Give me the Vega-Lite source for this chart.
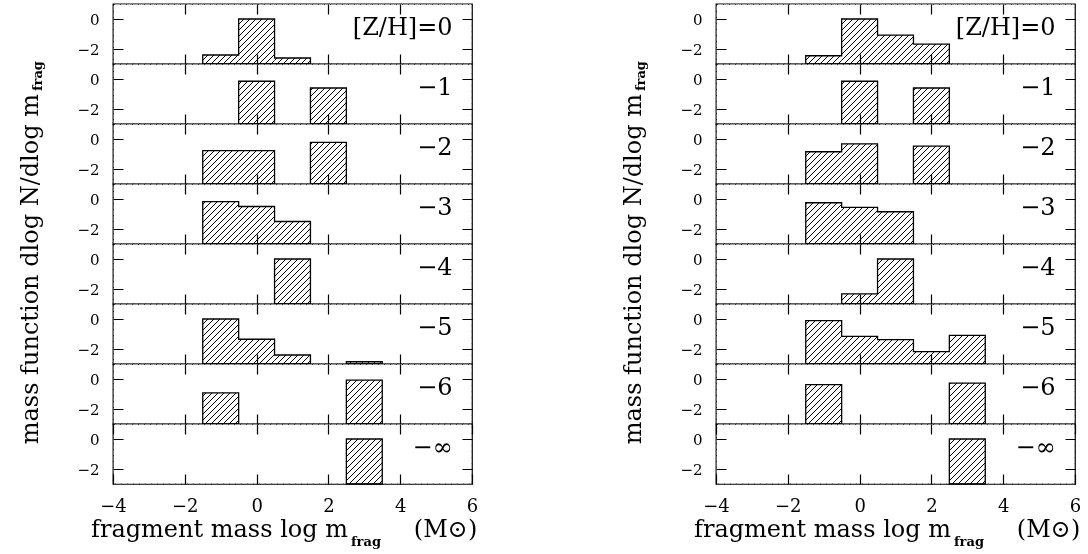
{
"$schema":"https://vega.github.io/schema/vega-lite/v6.json",
"background":"white",
"padding":{"left":18,"top":3,"right":5,"bottom":5},
"params":[{"name":"hatch","value":{"gradient":"linear","x1":0,"y1":0,"x2":1.21027,"y2":0.19903,"stops":[
{"offset":0,"color":"#000"},{"offset":0.003,"color":"#000"},{"offset":0.003,"color":"#fff"},
{"offset":0.0135,"color":"#fff"},{"offset":0.0135,"color":"#000"},{"offset":0.0165,"color":"#000"},{"offset":0.0165,"color":"#fff"},
{"offset":0.027,"color":"#fff"},{"offset":0.027,"color":"#000"},{"offset":0.03,"color":"#000"},{"offset":0.03,"color":"#fff"},
{"offset":0.0405,"color":"#fff"},{"offset":0.0405,"color":"#000"},{"offset":0.0435,"color":"#000"},{"offset":0.0435,"color":"#fff"},
{"offset":0.054,"color":"#fff"},{"offset":0.054,"color":"#000"},{"offset":0.057,"color":"#000"},{"offset":0.057,"color":"#fff"},
{"offset":0.0675,"color":"#fff"},{"offset":0.0675,"color":"#000"},{"offset":0.0705,"color":"#000"},{"offset":0.0705,"color":"#fff"},
{"offset":0.081,"color":"#fff"},{"offset":0.081,"color":"#000"},{"offset":0.084,"color":"#000"},{"offset":0.084,"color":"#fff"},
{"offset":0.0945,"color":"#fff"},{"offset":0.0945,"color":"#000"},{"offset":0.0975,"color":"#000"},{"offset":0.0975,"color":"#fff"},
{"offset":0.108,"color":"#fff"},{"offset":0.108,"color":"#000"},{"offset":0.111,"color":"#000"},{"offset":0.111,"color":"#fff"},
{"offset":0.1215,"color":"#fff"},{"offset":0.1215,"color":"#000"},{"offset":0.1245,"color":"#000"},{"offset":0.1245,"color":"#fff"},
{"offset":0.135,"color":"#fff"},{"offset":0.135,"color":"#000"},{"offset":0.138,"color":"#000"},{"offset":0.138,"color":"#fff"},
{"offset":0.1485,"color":"#fff"},{"offset":0.1485,"color":"#000"},{"offset":0.1515,"color":"#000"},{"offset":0.1515,"color":"#fff"},
{"offset":0.162,"color":"#fff"},{"offset":0.162,"color":"#000"},{"offset":0.165,"color":"#000"},{"offset":0.165,"color":"#fff"},
{"offset":0.1755,"color":"#fff"},{"offset":0.1755,"color":"#000"},{"offset":0.1785,"color":"#000"},{"offset":0.1785,"color":"#fff"},
{"offset":0.189,"color":"#fff"},{"offset":0.189,"color":"#000"},{"offset":0.192,"color":"#000"},{"offset":0.192,"color":"#fff"},
{"offset":0.2025,"color":"#fff"},{"offset":0.2025,"color":"#000"},{"offset":0.2055,"color":"#000"},{"offset":0.2055,"color":"#fff"},
{"offset":0.216,"color":"#fff"},{"offset":0.216,"color":"#000"},{"offset":0.219,"color":"#000"},{"offset":0.219,"color":"#fff"},
{"offset":0.2295,"color":"#fff"},{"offset":0.2295,"color":"#000"},{"offset":0.2325,"color":"#000"},{"offset":0.2325,"color":"#fff"},
{"offset":0.243,"color":"#fff"},{"offset":0.243,"color":"#000"},{"offset":0.246,"color":"#000"},{"offset":0.246,"color":"#fff"},
{"offset":0.2565,"color":"#fff"},{"offset":0.2565,"color":"#000"},{"offset":0.2595,"color":"#000"},{"offset":0.2595,"color":"#fff"},
{"offset":0.27,"color":"#fff"},{"offset":0.27,"color":"#000"},{"offset":0.273,"color":"#000"},{"offset":0.273,"color":"#fff"},
{"offset":0.2835,"color":"#fff"},{"offset":0.2835,"color":"#000"},{"offset":0.2865,"color":"#000"},{"offset":0.2865,"color":"#fff"},
{"offset":0.297,"color":"#fff"},{"offset":0.297,"color":"#000"},{"offset":0.3,"color":"#000"},{"offset":0.3,"color":"#fff"},
{"offset":0.3105,"color":"#fff"},{"offset":0.3105,"color":"#000"},{"offset":0.3135,"color":"#000"},{"offset":0.3135,"color":"#fff"},
{"offset":0.324,"color":"#fff"},{"offset":0.324,"color":"#000"},{"offset":0.327,"color":"#000"},{"offset":0.327,"color":"#fff"},
{"offset":0.3375,"color":"#fff"},{"offset":0.3375,"color":"#000"},{"offset":0.3405,"color":"#000"},{"offset":0.3405,"color":"#fff"},
{"offset":0.351,"color":"#fff"},{"offset":0.351,"color":"#000"},{"offset":0.354,"color":"#000"},{"offset":0.354,"color":"#fff"},
{"offset":0.3645,"color":"#fff"},{"offset":0.3645,"color":"#000"},{"offset":0.3675,"color":"#000"},{"offset":0.3675,"color":"#fff"},
{"offset":0.378,"color":"#fff"},{"offset":0.378,"color":"#000"},{"offset":0.381,"color":"#000"},{"offset":0.381,"color":"#fff"},
{"offset":0.3915,"color":"#fff"},{"offset":0.3915,"color":"#000"},{"offset":0.3945,"color":"#000"},{"offset":0.3945,"color":"#fff"},
{"offset":0.405,"color":"#fff"},{"offset":0.405,"color":"#000"},{"offset":0.408,"color":"#000"},{"offset":0.408,"color":"#fff"},
{"offset":0.4185,"color":"#fff"},{"offset":0.4185,"color":"#000"},{"offset":0.4215,"color":"#000"},{"offset":0.4215,"color":"#fff"},
{"offset":0.432,"color":"#fff"},{"offset":0.432,"color":"#000"},{"offset":0.435,"color":"#000"},{"offset":0.435,"color":"#fff"},
{"offset":0.4455,"color":"#fff"},{"offset":0.4455,"color":"#000"},{"offset":0.4485,"color":"#000"},{"offset":0.4485,"color":"#fff"},
{"offset":0.459,"color":"#fff"},{"offset":0.459,"color":"#000"},{"offset":0.462,"color":"#000"},{"offset":0.462,"color":"#fff"},
{"offset":0.4725,"color":"#fff"},{"offset":0.4725,"color":"#000"},{"offset":0.4755,"color":"#000"},{"offset":0.4755,"color":"#fff"},
{"offset":0.486,"color":"#fff"},{"offset":0.486,"color":"#000"},{"offset":0.489,"color":"#000"},{"offset":0.489,"color":"#fff"},
{"offset":0.4995,"color":"#fff"},{"offset":0.4995,"color":"#000"},{"offset":0.5025,"color":"#000"},{"offset":0.5025,"color":"#fff"},
{"offset":0.513,"color":"#fff"},{"offset":0.513,"color":"#000"},{"offset":0.516,"color":"#000"},{"offset":0.516,"color":"#fff"},
{"offset":0.5265,"color":"#fff"},{"offset":0.5265,"color":"#000"},{"offset":0.5295,"color":"#000"},{"offset":0.5295,"color":"#fff"},
{"offset":0.54,"color":"#fff"},{"offset":0.54,"color":"#000"},{"offset":0.543,"color":"#000"},{"offset":0.543,"color":"#fff"},
{"offset":0.5535,"color":"#fff"},{"offset":0.5535,"color":"#000"},{"offset":0.5565,"color":"#000"},{"offset":0.5565,"color":"#fff"},
{"offset":0.567,"color":"#fff"},{"offset":0.567,"color":"#000"},{"offset":0.57,"color":"#000"},{"offset":0.57,"color":"#fff"},
{"offset":0.5805,"color":"#fff"},{"offset":0.5805,"color":"#000"},{"offset":0.5835,"color":"#000"},{"offset":0.5835,"color":"#fff"},
{"offset":0.594,"color":"#fff"},{"offset":0.594,"color":"#000"},{"offset":0.597,"color":"#000"},{"offset":0.597,"color":"#fff"},
{"offset":0.6075,"color":"#fff"},{"offset":0.6075,"color":"#000"},{"offset":0.6105,"color":"#000"},{"offset":0.6105,"color":"#fff"},
{"offset":0.621,"color":"#fff"},{"offset":0.621,"color":"#000"},{"offset":0.624,"color":"#000"},{"offset":0.624,"color":"#fff"},
{"offset":0.6345,"color":"#fff"},{"offset":0.6345,"color":"#000"},{"offset":0.6375,"color":"#000"},{"offset":0.6375,"color":"#fff"},
{"offset":0.648,"color":"#fff"},{"offset":0.648,"color":"#000"},{"offset":0.651,"color":"#000"},{"offset":0.651,"color":"#fff"},
{"offset":0.6615,"color":"#fff"},{"offset":0.6615,"color":"#000"},{"offset":0.6645,"color":"#000"},{"offset":0.6645,"color":"#fff"},
{"offset":0.675,"color":"#fff"},{"offset":0.675,"color":"#000"},{"offset":0.678,"color":"#000"},{"offset":0.678,"color":"#fff"},
{"offset":0.6885,"color":"#fff"},{"offset":0.6885,"color":"#000"},{"offset":0.6915,"color":"#000"},{"offset":0.6915,"color":"#fff"},
{"offset":0.702,"color":"#fff"},{"offset":0.702,"color":"#000"},{"offset":0.705,"color":"#000"},{"offset":0.705,"color":"#fff"},
{"offset":0.7155,"color":"#fff"},{"offset":0.7155,"color":"#000"},{"offset":0.7185,"color":"#000"},{"offset":0.7185,"color":"#fff"},
{"offset":0.729,"color":"#fff"},{"offset":0.729,"color":"#000"},{"offset":0.732,"color":"#000"},{"offset":0.732,"color":"#fff"},
{"offset":0.7425,"color":"#fff"},{"offset":0.7425,"color":"#000"},{"offset":0.7455,"color":"#000"},{"offset":0.7455,"color":"#fff"},
{"offset":0.756,"color":"#fff"},{"offset":0.756,"color":"#000"},{"offset":0.759,"color":"#000"},{"offset":0.759,"color":"#fff"},
{"offset":0.7695,"color":"#fff"},{"offset":0.7695,"color":"#000"},{"offset":0.7725,"color":"#000"},{"offset":0.7725,"color":"#fff"},
{"offset":0.783,"color":"#fff"},{"offset":0.783,"color":"#000"},{"offset":0.786,"color":"#000"},{"offset":0.786,"color":"#fff"},
{"offset":0.7965,"color":"#fff"},{"offset":0.7965,"color":"#000"},{"offset":0.7995,"color":"#000"},{"offset":0.7995,"color":"#fff"},
{"offset":0.81,"color":"#fff"},{"offset":0.81,"color":"#000"},{"offset":0.813,"color":"#000"},{"offset":0.813,"color":"#fff"},
{"offset":0.8235,"color":"#fff"},{"offset":0.8235,"color":"#000"},{"offset":0.8265,"color":"#000"},{"offset":0.8265,"color":"#fff"},
{"offset":0.837,"color":"#fff"},{"offset":0.837,"color":"#000"},{"offset":0.84,"color":"#000"},{"offset":0.84,"color":"#fff"},
{"offset":0.8505,"color":"#fff"},{"offset":0.8505,"color":"#000"},{"offset":0.8535,"color":"#000"},{"offset":0.8535,"color":"#fff"},
{"offset":0.864,"color":"#fff"},{"offset":0.864,"color":"#000"},{"offset":0.867,"color":"#000"},{"offset":0.867,"color":"#fff"},
{"offset":0.8775,"color":"#fff"},{"offset":0.8775,"color":"#000"},{"offset":0.8805,"color":"#000"},{"offset":0.8805,"color":"#fff"},
{"offset":0.891,"color":"#fff"},{"offset":0.891,"color":"#000"},{"offset":0.894,"color":"#000"},{"offset":0.894,"color":"#fff"},
{"offset":0.9045,"color":"#fff"},{"offset":0.9045,"color":"#000"},{"offset":0.9075,"color":"#000"},{"offset":0.9075,"color":"#fff"},
{"offset":0.918,"color":"#fff"},{"offset":0.918,"color":"#000"},{"offset":0.921,"color":"#000"},{"offset":0.921,"color":"#fff"},
{"offset":0.9315,"color":"#fff"},{"offset":0.9315,"color":"#000"},{"offset":0.9345,"color":"#000"},{"offset":0.9345,"color":"#fff"},
{"offset":0.945,"color":"#fff"},{"offset":0.945,"color":"#000"},{"offset":0.948,"color":"#000"},{"offset":0.948,"color":"#fff"}
]}}],
"datasets":{"h":[
{"s":"L","z":"0","lo":-1.5,"hi":-0.5,"v":-2.4,"grp":"L0a"},
{"s":"L","z":"0","lo":-0.5,"hi":0.5,"v":0,"grp":"L0a"},
{"s":"L","z":"0","lo":0.5,"hi":1.5,"v":-2.6,"grp":"L0a"},
{"s":"L","z":"1","lo":-0.5,"hi":0.5,"v":-0.15,"grp":"L1a"},
{"s":"L","z":"1","lo":1.5,"hi":2.5,"v":-0.6,"grp":"L1b"},
{"s":"L","z":"2","lo":-1.5,"hi":-0.5,"v":-0.78,"grp":"L2a"},
{"s":"L","z":"2","lo":-0.5,"hi":0.5,"v":-0.78,"grp":"L2a"},
{"s":"L","z":"2","lo":1.5,"hi":2.5,"v":-0.22,"grp":"L2b"},
{"s":"L","z":"3","lo":-1.5,"hi":-0.5,"v":-0.18,"grp":"L3a"},
{"s":"L","z":"3","lo":-0.5,"hi":0.5,"v":-0.5,"grp":"L3a"},
{"s":"L","z":"3","lo":0.5,"hi":1.5,"v":-1.5,"grp":"L3a"},
{"s":"L","z":"4","lo":0.5,"hi":1.5,"v":0,"grp":"L4a"},
{"s":"L","z":"5","lo":-1.5,"hi":-0.5,"v":0,"grp":"L5a"},
{"s":"L","z":"5","lo":-0.5,"hi":0.5,"v":-1.35,"grp":"L5a"},
{"s":"L","z":"5","lo":0.5,"hi":1.5,"v":-2.4,"grp":"L5a"},
{"s":"L","z":"5","lo":2.5,"hi":3.5,"v":-2.85,"grp":"L5b"},
{"s":"L","z":"6","lo":-1.5,"hi":-0.5,"v":-0.93,"grp":"L6a"},
{"s":"L","z":"6","lo":2.5,"hi":3.5,"v":-0.07,"grp":"L6b"},
{"s":"L","z":"inf","lo":2.5,"hi":3.5,"v":0,"grp":"L7a"},
{"s":"R","z":"0","lo":-1.5,"hi":-0.5,"v":-2.45,"grp":"R0a"},
{"s":"R","z":"0","lo":-0.5,"hi":0.5,"v":0,"grp":"R0a"},
{"s":"R","z":"0","lo":0.5,"hi":1.5,"v":-1.07,"grp":"R0a"},
{"s":"R","z":"0","lo":1.5,"hi":2.5,"v":-1.67,"grp":"R0a"},
{"s":"R","z":"1","lo":-0.5,"hi":0.5,"v":-0.15,"grp":"R1a"},
{"s":"R","z":"1","lo":1.5,"hi":2.5,"v":-0.6,"grp":"R1b"},
{"s":"R","z":"2","lo":-1.5,"hi":-0.5,"v":-0.85,"grp":"R2a"},
{"s":"R","z":"2","lo":-0.5,"hi":0.5,"v":-0.33,"grp":"R2a"},
{"s":"R","z":"2","lo":1.5,"hi":2.5,"v":-0.47,"grp":"R2b"},
{"s":"R","z":"3","lo":-1.5,"hi":-0.5,"v":-0.25,"grp":"R3a"},
{"s":"R","z":"3","lo":-0.5,"hi":0.5,"v":-0.56,"grp":"R3a"},
{"s":"R","z":"3","lo":0.5,"hi":1.5,"v":-0.85,"grp":"R3a"},
{"s":"R","z":"4","lo":-0.5,"hi":0.5,"v":-2.33,"grp":"R4a"},
{"s":"R","z":"4","lo":0.5,"hi":1.5,"v":0,"grp":"R4a"},
{"s":"R","z":"5","lo":-1.5,"hi":-0.5,"v":-0.11,"grp":"R5a"},
{"s":"R","z":"5","lo":-0.5,"hi":0.5,"v":-1.16,"grp":"R5a"},
{"s":"R","z":"5","lo":0.5,"hi":1.5,"v":-1.38,"grp":"R5a"},
{"s":"R","z":"5","lo":1.5,"hi":2.5,"v":-2.18,"grp":"R5a"},
{"s":"R","z":"5","lo":2.5,"hi":3.5,"v":-1.09,"grp":"R5a"},
{"s":"R","z":"6","lo":-1.5,"hi":-0.5,"v":-0.38,"grp":"R6a"},
{"s":"R","z":"6","lo":2.5,"hi":3.5,"v":-0.27,"grp":"R6b"},
{"s":"R","z":"inf","lo":2.5,"hi":3.5,"v":0,"grp":"R7a"}
]},
"data":{"name":"h"},
"config":{
"view":{"stroke":"black","strokeWidth":1.3,"fill":"white"},
"axis":{"domain":false,"ticks":false,"grid":true,"gridColor":"black","gridOpacity":1,"gridWidth":1.2,"zindex":2,"labelColor":"black","labelFont":"DejaVu Serif","labelFlush":false,"labelOverlap":false,"labelBound":false,"format":"d"},
"text":{"font":"DejaVu Serif","color":"black"}
},
"spacing":603,
"bounds":"flush",
"hconcat":[
{"spacing":0,"bounds":"flush","vconcat":[
{"width":359,"height":60,"transform":[{"filter":"datum.s=='L'&&datum.z=='0'"}],"resolve":{"axis":{"x":"independent","y":"independent"}},"layer":[
{"mark":{"type":"rect","fill":"black"},"encoding":{"x":{"field":"lo","type":"quantitative","scale":{"domain":[-4,6],"nice":false,"zero":false},"axis":{"orient":"bottom","zindex":2,"values":[-2,0,2,4],"gridDash":[10,40],"labels":false,"title":null}},"x2":{"field":"hi"},"y":{"field":"v","type":"quantitative","scale":{"domain":[-3,1],"nice":false,"zero":false},"axis":{"orient":"left","zindex":2,"values":[-2,0],"gridDash":[10,339],"labelFontSize":15,"labelPadding":14,"title":null}},"y2":{"datum":-3}}},
{"data":{"values":[{}]},"mark":{"type":"rect","fill":{"expr":"hatch"},"blend":"lighten"},"encoding":{"x":{"datum":-3.98,"type":"quantitative","axis":{"orient":"top","zindex":2,"values":[-3.5,-3,-2.5,-1.5,-1,-0.5,0.5,1,1.5,2.5,3,3.5,4.5,5,5.5],"gridDash":[5,50],"labels":false,"title":null}},"x2":{"datum":5.98},"y":{"datum":0.96,"type":"quantitative","axis":{"orient":"right","zindex":2,"values":[-2.5,-1.5,-1,-0.5,0.5],"gridDash":[5,349],"labels":false,"title":null}},"y2":{"datum":-2.96}}},
{"transform":[{"fold":["lo","hi"],"as":["k","xv"]},{"joinaggregate":[{"op":"max","field":"hi","as":"mh"}],"groupby":["grp"]},{"filter":"datum.k=='lo'||datum.hi==datum.mh"}],"mark":{"type":"area","interpolate":"step-after","fillOpacity":0,"stroke":"black","strokeWidth":1.3},"encoding":{"x":{"field":"xv","type":"quantitative","axis":null},"y":{"field":"v","type":"quantitative","axis":null,"stack":null},"y2":{"datum":-3},"detail":{"field":"grp"}}},
{"data":{"values":[{}]},"mark":{"type":"text","align":"right","baseline":"middle","fontSize":24},"encoding":{"x":{"datum":5.46,"type":"quantitative","axis":null},"y":{"datum":-0.6,"type":"quantitative","axis":null},"text":{"value":"[Z/H]=0"}}}
]},
{"width":359,"height":60,"transform":[{"filter":"datum.s=='L'&&datum.z=='1'"}],"resolve":{"axis":{"x":"independent","y":"independent"}},"layer":[
{"mark":{"type":"rect","fill":"black"},"encoding":{"x":{"field":"lo","type":"quantitative","scale":{"domain":[-4,6],"nice":false,"zero":false},"axis":{"orient":"bottom","zindex":2,"values":[-2,0,2,4],"gridDash":[10,40],"labels":false,"title":null}},"x2":{"field":"hi"},"y":{"field":"v","type":"quantitative","scale":{"domain":[-3,1],"nice":false,"zero":false},"axis":{"orient":"left","zindex":2,"values":[-2,0],"gridDash":[10,339],"labelFontSize":15,"labelPadding":14,"title":null}},"y2":{"datum":-3}}},
{"data":{"values":[{}]},"mark":{"type":"rect","fill":{"expr":"hatch"},"blend":"lighten"},"encoding":{"x":{"datum":-3.98,"type":"quantitative","axis":{"orient":"top","zindex":2,"values":[-3.5,-3,-2.5,-1.5,-1,-0.5,0.5,1,1.5,2.5,3,3.5,4.5,5,5.5],"gridDash":[5,50],"labels":false,"title":null}},"x2":{"datum":5.98},"y":{"datum":0.96,"type":"quantitative","axis":{"orient":"right","zindex":2,"values":[-2.5,-1.5,-1,-0.5,0.5],"gridDash":[5,349],"labels":false,"title":null}},"y2":{"datum":-2.96}}},
{"transform":[{"fold":["lo","hi"],"as":["k","xv"]},{"joinaggregate":[{"op":"max","field":"hi","as":"mh"}],"groupby":["grp"]},{"filter":"datum.k=='lo'||datum.hi==datum.mh"}],"mark":{"type":"area","interpolate":"step-after","fillOpacity":0,"stroke":"black","strokeWidth":1.3},"encoding":{"x":{"field":"xv","type":"quantitative","axis":null},"y":{"field":"v","type":"quantitative","axis":null,"stack":null},"y2":{"datum":-3},"detail":{"field":"grp"}}},
{"data":{"values":[{}]},"mark":{"type":"text","align":"right","baseline":"middle","fontSize":24},"encoding":{"x":{"datum":5.46,"type":"quantitative","axis":null},"y":{"datum":-0.6,"type":"quantitative","axis":null},"text":{"value":"−1"}}}
]},
{"width":359,"height":60,"transform":[{"filter":"datum.s=='L'&&datum.z=='2'"}],"resolve":{"axis":{"x":"independent","y":"independent"}},"layer":[
{"mark":{"type":"rect","fill":"black"},"encoding":{"x":{"field":"lo","type":"quantitative","scale":{"domain":[-4,6],"nice":false,"zero":false},"axis":{"orient":"bottom","zindex":2,"values":[-2,0,2,4],"gridDash":[10,40],"labels":false,"title":null}},"x2":{"field":"hi"},"y":{"field":"v","type":"quantitative","scale":{"domain":[-3,1],"nice":false,"zero":false},"axis":{"orient":"left","zindex":2,"values":[-2,0],"gridDash":[10,339],"labelFontSize":15,"labelPadding":14,"title":null}},"y2":{"datum":-3}}},
{"data":{"values":[{}]},"mark":{"type":"rect","fill":{"expr":"hatch"},"blend":"lighten"},"encoding":{"x":{"datum":-3.98,"type":"quantitative","axis":{"orient":"top","zindex":2,"values":[-3.5,-3,-2.5,-1.5,-1,-0.5,0.5,1,1.5,2.5,3,3.5,4.5,5,5.5],"gridDash":[5,50],"labels":false,"title":null}},"x2":{"datum":5.98},"y":{"datum":0.96,"type":"quantitative","axis":{"orient":"right","zindex":2,"values":[-2.5,-1.5,-1,-0.5,0.5],"gridDash":[5,349],"labels":false,"title":null}},"y2":{"datum":-2.96}}},
{"transform":[{"fold":["lo","hi"],"as":["k","xv"]},{"joinaggregate":[{"op":"max","field":"hi","as":"mh"}],"groupby":["grp"]},{"filter":"datum.k=='lo'||datum.hi==datum.mh"}],"mark":{"type":"area","interpolate":"step-after","fillOpacity":0,"stroke":"black","strokeWidth":1.3},"encoding":{"x":{"field":"xv","type":"quantitative","axis":null},"y":{"field":"v","type":"quantitative","axis":null,"stack":null},"y2":{"datum":-3},"detail":{"field":"grp"}}},
{"data":{"values":[{}]},"mark":{"type":"text","align":"right","baseline":"middle","fontSize":24},"encoding":{"x":{"datum":5.46,"type":"quantitative","axis":null},"y":{"datum":-0.6,"type":"quantitative","axis":null},"text":{"value":"−2"}}}
]},
{"width":359,"height":60,"transform":[{"filter":"datum.s=='L'&&datum.z=='3'"}],"resolve":{"axis":{"x":"independent","y":"independent"}},"layer":[
{"mark":{"type":"rect","fill":"black"},"encoding":{"x":{"field":"lo","type":"quantitative","scale":{"domain":[-4,6],"nice":false,"zero":false},"axis":{"orient":"bottom","zindex":2,"values":[-2,0,2,4],"gridDash":[10,40],"labels":false,"title":null}},"x2":{"field":"hi"},"y":{"field":"v","type":"quantitative","scale":{"domain":[-3,1],"nice":false,"zero":false},"axis":{"orient":"left","zindex":2,"values":[-2,0],"gridDash":[10,339],"labelFontSize":15,"labelPadding":14,"title":null}},"y2":{"datum":-3}}},
{"data":{"values":[{}]},"mark":{"type":"rect","fill":{"expr":"hatch"},"blend":"lighten"},"encoding":{"x":{"datum":-3.98,"type":"quantitative","axis":{"orient":"top","zindex":2,"values":[-3.5,-3,-2.5,-1.5,-1,-0.5,0.5,1,1.5,2.5,3,3.5,4.5,5,5.5],"gridDash":[5,50],"labels":false,"title":null}},"x2":{"datum":5.98},"y":{"datum":0.96,"type":"quantitative","axis":{"orient":"right","zindex":2,"values":[-2.5,-1.5,-1,-0.5,0.5],"gridDash":[5,349],"labels":false,"title":null}},"y2":{"datum":-2.96}}},
{"transform":[{"fold":["lo","hi"],"as":["k","xv"]},{"joinaggregate":[{"op":"max","field":"hi","as":"mh"}],"groupby":["grp"]},{"filter":"datum.k=='lo'||datum.hi==datum.mh"}],"mark":{"type":"area","interpolate":"step-after","fillOpacity":0,"stroke":"black","strokeWidth":1.3},"encoding":{"x":{"field":"xv","type":"quantitative","axis":null},"y":{"field":"v","type":"quantitative","axis":null,"stack":null},"y2":{"datum":-3},"detail":{"field":"grp"}}},
{"data":{"values":[{}]},"mark":{"type":"text","align":"right","baseline":"middle","fontSize":24},"encoding":{"x":{"datum":5.46,"type":"quantitative","axis":null},"y":{"datum":-0.6,"type":"quantitative","axis":null},"text":{"value":"−3"}}},
{"data":{"values":[{}]},"mark":{"type":"text","angle":270,"align":"right","baseline":"alphabetic","fontSize":24},"encoding":{"x":{"datum":-6.09,"type":"quantitative","axis":null},"y":{"datum":7.0,"type":"quantitative","axis":null},"text":{"value":"mass function dlog N/dlog m"}}},
{"data":{"values":[{}]},"mark":{"type":"text","angle":270,"align":"left","baseline":"alphabetic","fontSize":13,"fontWeight":"bold"},"encoding":{"x":{"datum":-5.98,"type":"quantitative","axis":null},"y":{"datum":7.2,"type":"quantitative","axis":null},"text":{"value":"frag"}}}
]},
{"width":359,"height":60,"transform":[{"filter":"datum.s=='L'&&datum.z=='4'"}],"resolve":{"axis":{"x":"independent","y":"independent"}},"layer":[
{"mark":{"type":"rect","fill":"black"},"encoding":{"x":{"field":"lo","type":"quantitative","scale":{"domain":[-4,6],"nice":false,"zero":false},"axis":{"orient":"bottom","zindex":2,"values":[-2,0,2,4],"gridDash":[10,40],"labels":false,"title":null}},"x2":{"field":"hi"},"y":{"field":"v","type":"quantitative","scale":{"domain":[-3,1],"nice":false,"zero":false},"axis":{"orient":"left","zindex":2,"values":[-2,0],"gridDash":[10,339],"labelFontSize":15,"labelPadding":14,"title":null}},"y2":{"datum":-3}}},
{"data":{"values":[{}]},"mark":{"type":"rect","fill":{"expr":"hatch"},"blend":"lighten"},"encoding":{"x":{"datum":-3.98,"type":"quantitative","axis":{"orient":"top","zindex":2,"values":[-3.5,-3,-2.5,-1.5,-1,-0.5,0.5,1,1.5,2.5,3,3.5,4.5,5,5.5],"gridDash":[5,50],"labels":false,"title":null}},"x2":{"datum":5.98},"y":{"datum":0.96,"type":"quantitative","axis":{"orient":"right","zindex":2,"values":[-2.5,-1.5,-1,-0.5,0.5],"gridDash":[5,349],"labels":false,"title":null}},"y2":{"datum":-2.96}}},
{"transform":[{"fold":["lo","hi"],"as":["k","xv"]},{"joinaggregate":[{"op":"max","field":"hi","as":"mh"}],"groupby":["grp"]},{"filter":"datum.k=='lo'||datum.hi==datum.mh"}],"mark":{"type":"area","interpolate":"step-after","fillOpacity":0,"stroke":"black","strokeWidth":1.3},"encoding":{"x":{"field":"xv","type":"quantitative","axis":null},"y":{"field":"v","type":"quantitative","axis":null,"stack":null},"y2":{"datum":-3},"detail":{"field":"grp"}}},
{"data":{"values":[{}]},"mark":{"type":"text","align":"right","baseline":"middle","fontSize":24},"encoding":{"x":{"datum":5.46,"type":"quantitative","axis":null},"y":{"datum":-0.6,"type":"quantitative","axis":null},"text":{"value":"−4"}}}
]},
{"width":359,"height":60,"transform":[{"filter":"datum.s=='L'&&datum.z=='5'"}],"resolve":{"axis":{"x":"independent","y":"independent"}},"layer":[
{"mark":{"type":"rect","fill":"black"},"encoding":{"x":{"field":"lo","type":"quantitative","scale":{"domain":[-4,6],"nice":false,"zero":false},"axis":{"orient":"bottom","zindex":2,"values":[-2,0,2,4],"gridDash":[10,40],"labels":false,"title":null}},"x2":{"field":"hi"},"y":{"field":"v","type":"quantitative","scale":{"domain":[-3,1],"nice":false,"zero":false},"axis":{"orient":"left","zindex":2,"values":[-2,0],"gridDash":[10,339],"labelFontSize":15,"labelPadding":14,"title":null}},"y2":{"datum":-3}}},
{"data":{"values":[{}]},"mark":{"type":"rect","fill":{"expr":"hatch"},"blend":"lighten"},"encoding":{"x":{"datum":-3.98,"type":"quantitative","axis":{"orient":"top","zindex":2,"values":[-3.5,-3,-2.5,-1.5,-1,-0.5,0.5,1,1.5,2.5,3,3.5,4.5,5,5.5],"gridDash":[5,50],"labels":false,"title":null}},"x2":{"datum":5.98},"y":{"datum":0.96,"type":"quantitative","axis":{"orient":"right","zindex":2,"values":[-2.5,-1.5,-1,-0.5,0.5],"gridDash":[5,349],"labels":false,"title":null}},"y2":{"datum":-2.96}}},
{"transform":[{"fold":["lo","hi"],"as":["k","xv"]},{"joinaggregate":[{"op":"max","field":"hi","as":"mh"}],"groupby":["grp"]},{"filter":"datum.k=='lo'||datum.hi==datum.mh"}],"mark":{"type":"area","interpolate":"step-after","fillOpacity":0,"stroke":"black","strokeWidth":1.3},"encoding":{"x":{"field":"xv","type":"quantitative","axis":null},"y":{"field":"v","type":"quantitative","axis":null,"stack":null},"y2":{"datum":-3},"detail":{"field":"grp"}}},
{"data":{"values":[{}]},"mark":{"type":"text","align":"right","baseline":"middle","fontSize":24},"encoding":{"x":{"datum":5.46,"type":"quantitative","axis":null},"y":{"datum":-0.6,"type":"quantitative","axis":null},"text":{"value":"−5"}}}
]},
{"width":359,"height":60,"transform":[{"filter":"datum.s=='L'&&datum.z=='6'"}],"resolve":{"axis":{"x":"independent","y":"independent"}},"layer":[
{"mark":{"type":"rect","fill":"black"},"encoding":{"x":{"field":"lo","type":"quantitative","scale":{"domain":[-4,6],"nice":false,"zero":false},"axis":{"orient":"bottom","zindex":2,"values":[-2,0,2,4],"gridDash":[10,40],"labels":false,"title":null}},"x2":{"field":"hi"},"y":{"field":"v","type":"quantitative","scale":{"domain":[-3,1],"nice":false,"zero":false},"axis":{"orient":"left","zindex":2,"values":[-2,0],"gridDash":[10,339],"labelFontSize":15,"labelPadding":14,"title":null}},"y2":{"datum":-3}}},
{"data":{"values":[{}]},"mark":{"type":"rect","fill":{"expr":"hatch"},"blend":"lighten"},"encoding":{"x":{"datum":-3.98,"type":"quantitative","axis":{"orient":"top","zindex":2,"values":[-3.5,-3,-2.5,-1.5,-1,-0.5,0.5,1,1.5,2.5,3,3.5,4.5,5,5.5],"gridDash":[5,50],"labels":false,"title":null}},"x2":{"datum":5.98},"y":{"datum":0.96,"type":"quantitative","axis":{"orient":"right","zindex":2,"values":[-2.5,-1.5,-1,-0.5,0.5],"gridDash":[5,349],"labels":false,"title":null}},"y2":{"datum":-2.96}}},
{"transform":[{"fold":["lo","hi"],"as":["k","xv"]},{"joinaggregate":[{"op":"max","field":"hi","as":"mh"}],"groupby":["grp"]},{"filter":"datum.k=='lo'||datum.hi==datum.mh"}],"mark":{"type":"area","interpolate":"step-after","fillOpacity":0,"stroke":"black","strokeWidth":1.3},"encoding":{"x":{"field":"xv","type":"quantitative","axis":null},"y":{"field":"v","type":"quantitative","axis":null,"stack":null},"y2":{"datum":-3},"detail":{"field":"grp"}}},
{"data":{"values":[{}]},"mark":{"type":"text","align":"right","baseline":"middle","fontSize":24},"encoding":{"x":{"datum":5.46,"type":"quantitative","axis":null},"y":{"datum":-0.6,"type":"quantitative","axis":null},"text":{"value":"−6"}}}
]},
{"width":359,"height":60,"transform":[{"filter":"datum.s=='L'&&datum.z=='inf'"}],"resolve":{"axis":{"x":"independent","y":"independent"}},"layer":[
{"mark":{"type":"rect","fill":"black"},"encoding":{"x":{"field":"lo","type":"quantitative","scale":{"domain":[-4,6],"nice":false,"zero":false},"axis":{"orient":"bottom","zindex":2,"values":[-4,-2,0,2,4,6],"gridDash":[10,40],"labelFontSize":18,"labelPadding":13,"title":null}},"x2":{"field":"hi"},"y":{"field":"v","type":"quantitative","scale":{"domain":[-3,1],"nice":false,"zero":false},"axis":{"orient":"left","zindex":2,"values":[-2,0],"gridDash":[10,339],"labelFontSize":15,"labelPadding":14,"title":null}},"y2":{"datum":-3}}},
{"data":{"values":[{}]},"mark":{"type":"rect","fill":{"expr":"hatch"},"blend":"lighten"},"encoding":{"x":{"datum":-3.98,"type":"quantitative","axis":{"orient":"top","zindex":2,"values":[-3.5,-3,-2.5,-1.5,-1,-0.5,0.5,1,1.5,2.5,3,3.5,4.5,5,5.5],"gridDash":[5,50],"labels":false,"title":null}},"x2":{"datum":5.98},"y":{"datum":0.96,"type":"quantitative","axis":{"orient":"right","zindex":2,"values":[-2.5,-1.5,-1,-0.5,0.5],"gridDash":[5,349],"labels":false,"title":null}},"y2":{"datum":-2.96}}},
{"transform":[{"fold":["lo","hi"],"as":["k","xv"]},{"joinaggregate":[{"op":"max","field":"hi","as":"mh"}],"groupby":["grp"]},{"filter":"datum.k=='lo'||datum.hi==datum.mh"}],"mark":{"type":"area","interpolate":"step-after","fillOpacity":0,"stroke":"black","strokeWidth":1.3},"encoding":{"x":{"field":"xv","type":"quantitative","axis":null},"y":{"field":"v","type":"quantitative","axis":null,"stack":null},"y2":{"datum":-3},"detail":{"field":"grp"}}},
{"data":{"values":[{}]},"mark":{"type":"text","align":"right","baseline":"middle","fontSize":24},"encoding":{"x":{"datum":5.46,"type":"quantitative","axis":null},"y":{"datum":-0.6,"type":"quantitative","axis":null},"text":{"value":"−∞"}}},
{"data":{"values":[{}]},"mark":{"type":"text","align":"right","baseline":"alphabetic","fontSize":24},"encoding":{"x":{"datum":2.546,"type":"quantitative","axis":null},"y":{"datum":-6.53,"type":"quantitative","axis":null},"text":{"value":"fragment mass log m"}}},
{"data":{"values":[{}]},"mark":{"type":"text","align":"left","baseline":"alphabetic","fontSize":13,"fontWeight":"bold"},"encoding":{"x":{"datum":2.63,"type":"quantitative","axis":null},"y":{"datum":-7.13,"type":"quantitative","axis":null},"text":{"value":"frag"}}},
{"data":{"values":[{}]},"mark":{"type":"text","align":"left","baseline":"alphabetic","fontSize":24},"encoding":{"x":{"datum":4.38,"type":"quantitative","axis":null},"y":{"datum":-6.53,"type":"quantitative","axis":null},"text":{"value":"(M⊙)"}}}
]}
]},
{"spacing":0,"bounds":"flush","vconcat":[
{"width":359,"height":60,"transform":[{"filter":"datum.s=='R'&&datum.z=='0'"}],"resolve":{"axis":{"x":"independent","y":"independent"}},"layer":[
{"mark":{"type":"rect","fill":"black"},"encoding":{"x":{"field":"lo","type":"quantitative","scale":{"domain":[-4,6],"nice":false,"zero":false},"axis":{"orient":"bottom","zindex":2,"values":[-2,0,2,4],"gridDash":[10,40],"labels":false,"title":null}},"x2":{"field":"hi"},"y":{"field":"v","type":"quantitative","scale":{"domain":[-3,1],"nice":false,"zero":false},"axis":{"orient":"left","zindex":2,"values":[-2,0],"gridDash":[10,339],"labelFontSize":15,"labelPadding":14,"title":null}},"y2":{"datum":-3}}},
{"data":{"values":[{}]},"mark":{"type":"rect","fill":{"expr":"hatch"},"blend":"lighten"},"encoding":{"x":{"datum":-3.98,"type":"quantitative","axis":{"orient":"top","zindex":2,"values":[-3.5,-3,-2.5,-1.5,-1,-0.5,0.5,1,1.5,2.5,3,3.5,4.5,5,5.5],"gridDash":[5,50],"labels":false,"title":null}},"x2":{"datum":5.98},"y":{"datum":0.96,"type":"quantitative","axis":{"orient":"right","zindex":2,"values":[-2.5,-1.5,-1,-0.5,0.5],"gridDash":[5,349],"labels":false,"title":null}},"y2":{"datum":-2.96}}},
{"transform":[{"fold":["lo","hi"],"as":["k","xv"]},{"joinaggregate":[{"op":"max","field":"hi","as":"mh"}],"groupby":["grp"]},{"filter":"datum.k=='lo'||datum.hi==datum.mh"}],"mark":{"type":"area","interpolate":"step-after","fillOpacity":0,"stroke":"black","strokeWidth":1.3},"encoding":{"x":{"field":"xv","type":"quantitative","axis":null},"y":{"field":"v","type":"quantitative","axis":null,"stack":null},"y2":{"datum":-3},"detail":{"field":"grp"}}},
{"data":{"values":[{}]},"mark":{"type":"text","align":"right","baseline":"middle","fontSize":24},"encoding":{"x":{"datum":5.46,"type":"quantitative","axis":null},"y":{"datum":-0.6,"type":"quantitative","axis":null},"text":{"value":"[Z/H]=0"}}}
]},
{"width":359,"height":60,"transform":[{"filter":"datum.s=='R'&&datum.z=='1'"}],"resolve":{"axis":{"x":"independent","y":"independent"}},"layer":[
{"mark":{"type":"rect","fill":"black"},"encoding":{"x":{"field":"lo","type":"quantitative","scale":{"domain":[-4,6],"nice":false,"zero":false},"axis":{"orient":"bottom","zindex":2,"values":[-2,0,2,4],"gridDash":[10,40],"labels":false,"title":null}},"x2":{"field":"hi"},"y":{"field":"v","type":"quantitative","scale":{"domain":[-3,1],"nice":false,"zero":false},"axis":{"orient":"left","zindex":2,"values":[-2,0],"gridDash":[10,339],"labelFontSize":15,"labelPadding":14,"title":null}},"y2":{"datum":-3}}},
{"data":{"values":[{}]},"mark":{"type":"rect","fill":{"expr":"hatch"},"blend":"lighten"},"encoding":{"x":{"datum":-3.98,"type":"quantitative","axis":{"orient":"top","zindex":2,"values":[-3.5,-3,-2.5,-1.5,-1,-0.5,0.5,1,1.5,2.5,3,3.5,4.5,5,5.5],"gridDash":[5,50],"labels":false,"title":null}},"x2":{"datum":5.98},"y":{"datum":0.96,"type":"quantitative","axis":{"orient":"right","zindex":2,"values":[-2.5,-1.5,-1,-0.5,0.5],"gridDash":[5,349],"labels":false,"title":null}},"y2":{"datum":-2.96}}},
{"transform":[{"fold":["lo","hi"],"as":["k","xv"]},{"joinaggregate":[{"op":"max","field":"hi","as":"mh"}],"groupby":["grp"]},{"filter":"datum.k=='lo'||datum.hi==datum.mh"}],"mark":{"type":"area","interpolate":"step-after","fillOpacity":0,"stroke":"black","strokeWidth":1.3},"encoding":{"x":{"field":"xv","type":"quantitative","axis":null},"y":{"field":"v","type":"quantitative","axis":null,"stack":null},"y2":{"datum":-3},"detail":{"field":"grp"}}},
{"data":{"values":[{}]},"mark":{"type":"text","align":"right","baseline":"middle","fontSize":24},"encoding":{"x":{"datum":5.46,"type":"quantitative","axis":null},"y":{"datum":-0.6,"type":"quantitative","axis":null},"text":{"value":"−1"}}}
]},
{"width":359,"height":60,"transform":[{"filter":"datum.s=='R'&&datum.z=='2'"}],"resolve":{"axis":{"x":"independent","y":"independent"}},"layer":[
{"mark":{"type":"rect","fill":"black"},"encoding":{"x":{"field":"lo","type":"quantitative","scale":{"domain":[-4,6],"nice":false,"zero":false},"axis":{"orient":"bottom","zindex":2,"values":[-2,0,2,4],"gridDash":[10,40],"labels":false,"title":null}},"x2":{"field":"hi"},"y":{"field":"v","type":"quantitative","scale":{"domain":[-3,1],"nice":false,"zero":false},"axis":{"orient":"left","zindex":2,"values":[-2,0],"gridDash":[10,339],"labelFontSize":15,"labelPadding":14,"title":null}},"y2":{"datum":-3}}},
{"data":{"values":[{}]},"mark":{"type":"rect","fill":{"expr":"hatch"},"blend":"lighten"},"encoding":{"x":{"datum":-3.98,"type":"quantitative","axis":{"orient":"top","zindex":2,"values":[-3.5,-3,-2.5,-1.5,-1,-0.5,0.5,1,1.5,2.5,3,3.5,4.5,5,5.5],"gridDash":[5,50],"labels":false,"title":null}},"x2":{"datum":5.98},"y":{"datum":0.96,"type":"quantitative","axis":{"orient":"right","zindex":2,"values":[-2.5,-1.5,-1,-0.5,0.5],"gridDash":[5,349],"labels":false,"title":null}},"y2":{"datum":-2.96}}},
{"transform":[{"fold":["lo","hi"],"as":["k","xv"]},{"joinaggregate":[{"op":"max","field":"hi","as":"mh"}],"groupby":["grp"]},{"filter":"datum.k=='lo'||datum.hi==datum.mh"}],"mark":{"type":"area","interpolate":"step-after","fillOpacity":0,"stroke":"black","strokeWidth":1.3},"encoding":{"x":{"field":"xv","type":"quantitative","axis":null},"y":{"field":"v","type":"quantitative","axis":null,"stack":null},"y2":{"datum":-3},"detail":{"field":"grp"}}},
{"data":{"values":[{}]},"mark":{"type":"text","align":"right","baseline":"middle","fontSize":24},"encoding":{"x":{"datum":5.46,"type":"quantitative","axis":null},"y":{"datum":-0.6,"type":"quantitative","axis":null},"text":{"value":"−2"}}}
]},
{"width":359,"height":60,"transform":[{"filter":"datum.s=='R'&&datum.z=='3'"}],"resolve":{"axis":{"x":"independent","y":"independent"}},"layer":[
{"mark":{"type":"rect","fill":"black"},"encoding":{"x":{"field":"lo","type":"quantitative","scale":{"domain":[-4,6],"nice":false,"zero":false},"axis":{"orient":"bottom","zindex":2,"values":[-2,0,2,4],"gridDash":[10,40],"labels":false,"title":null}},"x2":{"field":"hi"},"y":{"field":"v","type":"quantitative","scale":{"domain":[-3,1],"nice":false,"zero":false},"axis":{"orient":"left","zindex":2,"values":[-2,0],"gridDash":[10,339],"labelFontSize":15,"labelPadding":14,"title":null}},"y2":{"datum":-3}}},
{"data":{"values":[{}]},"mark":{"type":"rect","fill":{"expr":"hatch"},"blend":"lighten"},"encoding":{"x":{"datum":-3.98,"type":"quantitative","axis":{"orient":"top","zindex":2,"values":[-3.5,-3,-2.5,-1.5,-1,-0.5,0.5,1,1.5,2.5,3,3.5,4.5,5,5.5],"gridDash":[5,50],"labels":false,"title":null}},"x2":{"datum":5.98},"y":{"datum":0.96,"type":"quantitative","axis":{"orient":"right","zindex":2,"values":[-2.5,-1.5,-1,-0.5,0.5],"gridDash":[5,349],"labels":false,"title":null}},"y2":{"datum":-2.96}}},
{"transform":[{"fold":["lo","hi"],"as":["k","xv"]},{"joinaggregate":[{"op":"max","field":"hi","as":"mh"}],"groupby":["grp"]},{"filter":"datum.k=='lo'||datum.hi==datum.mh"}],"mark":{"type":"area","interpolate":"step-after","fillOpacity":0,"stroke":"black","strokeWidth":1.3},"encoding":{"x":{"field":"xv","type":"quantitative","axis":null},"y":{"field":"v","type":"quantitative","axis":null,"stack":null},"y2":{"datum":-3},"detail":{"field":"grp"}}},
{"data":{"values":[{}]},"mark":{"type":"text","align":"right","baseline":"middle","fontSize":24},"encoding":{"x":{"datum":5.46,"type":"quantitative","axis":null},"y":{"datum":-0.6,"type":"quantitative","axis":null},"text":{"value":"−3"}}},
{"data":{"values":[{}]},"mark":{"type":"text","angle":270,"align":"right","baseline":"alphabetic","fontSize":24},"encoding":{"x":{"datum":-6.09,"type":"quantitative","axis":null},"y":{"datum":7.0,"type":"quantitative","axis":null},"text":{"value":"mass function dlog N/dlog m"}}},
{"data":{"values":[{}]},"mark":{"type":"text","angle":270,"align":"left","baseline":"alphabetic","fontSize":13,"fontWeight":"bold"},"encoding":{"x":{"datum":-5.98,"type":"quantitative","axis":null},"y":{"datum":7.2,"type":"quantitative","axis":null},"text":{"value":"frag"}}}
]},
{"width":359,"height":60,"transform":[{"filter":"datum.s=='R'&&datum.z=='4'"}],"resolve":{"axis":{"x":"independent","y":"independent"}},"layer":[
{"mark":{"type":"rect","fill":"black"},"encoding":{"x":{"field":"lo","type":"quantitative","scale":{"domain":[-4,6],"nice":false,"zero":false},"axis":{"orient":"bottom","zindex":2,"values":[-2,0,2,4],"gridDash":[10,40],"labels":false,"title":null}},"x2":{"field":"hi"},"y":{"field":"v","type":"quantitative","scale":{"domain":[-3,1],"nice":false,"zero":false},"axis":{"orient":"left","zindex":2,"values":[-2,0],"gridDash":[10,339],"labelFontSize":15,"labelPadding":14,"title":null}},"y2":{"datum":-3}}},
{"data":{"values":[{}]},"mark":{"type":"rect","fill":{"expr":"hatch"},"blend":"lighten"},"encoding":{"x":{"datum":-3.98,"type":"quantitative","axis":{"orient":"top","zindex":2,"values":[-3.5,-3,-2.5,-1.5,-1,-0.5,0.5,1,1.5,2.5,3,3.5,4.5,5,5.5],"gridDash":[5,50],"labels":false,"title":null}},"x2":{"datum":5.98},"y":{"datum":0.96,"type":"quantitative","axis":{"orient":"right","zindex":2,"values":[-2.5,-1.5,-1,-0.5,0.5],"gridDash":[5,349],"labels":false,"title":null}},"y2":{"datum":-2.96}}},
{"transform":[{"fold":["lo","hi"],"as":["k","xv"]},{"joinaggregate":[{"op":"max","field":"hi","as":"mh"}],"groupby":["grp"]},{"filter":"datum.k=='lo'||datum.hi==datum.mh"}],"mark":{"type":"area","interpolate":"step-after","fillOpacity":0,"stroke":"black","strokeWidth":1.3},"encoding":{"x":{"field":"xv","type":"quantitative","axis":null},"y":{"field":"v","type":"quantitative","axis":null,"stack":null},"y2":{"datum":-3},"detail":{"field":"grp"}}},
{"data":{"values":[{}]},"mark":{"type":"text","align":"right","baseline":"middle","fontSize":24},"encoding":{"x":{"datum":5.46,"type":"quantitative","axis":null},"y":{"datum":-0.6,"type":"quantitative","axis":null},"text":{"value":"−4"}}}
]},
{"width":359,"height":60,"transform":[{"filter":"datum.s=='R'&&datum.z=='5'"}],"resolve":{"axis":{"x":"independent","y":"independent"}},"layer":[
{"mark":{"type":"rect","fill":"black"},"encoding":{"x":{"field":"lo","type":"quantitative","scale":{"domain":[-4,6],"nice":false,"zero":false},"axis":{"orient":"bottom","zindex":2,"values":[-2,0,2,4],"gridDash":[10,40],"labels":false,"title":null}},"x2":{"field":"hi"},"y":{"field":"v","type":"quantitative","scale":{"domain":[-3,1],"nice":false,"zero":false},"axis":{"orient":"left","zindex":2,"values":[-2,0],"gridDash":[10,339],"labelFontSize":15,"labelPadding":14,"title":null}},"y2":{"datum":-3}}},
{"data":{"values":[{}]},"mark":{"type":"rect","fill":{"expr":"hatch"},"blend":"lighten"},"encoding":{"x":{"datum":-3.98,"type":"quantitative","axis":{"orient":"top","zindex":2,"values":[-3.5,-3,-2.5,-1.5,-1,-0.5,0.5,1,1.5,2.5,3,3.5,4.5,5,5.5],"gridDash":[5,50],"labels":false,"title":null}},"x2":{"datum":5.98},"y":{"datum":0.96,"type":"quantitative","axis":{"orient":"right","zindex":2,"values":[-2.5,-1.5,-1,-0.5,0.5],"gridDash":[5,349],"labels":false,"title":null}},"y2":{"datum":-2.96}}},
{"transform":[{"fold":["lo","hi"],"as":["k","xv"]},{"joinaggregate":[{"op":"max","field":"hi","as":"mh"}],"groupby":["grp"]},{"filter":"datum.k=='lo'||datum.hi==datum.mh"}],"mark":{"type":"area","interpolate":"step-after","fillOpacity":0,"stroke":"black","strokeWidth":1.3},"encoding":{"x":{"field":"xv","type":"quantitative","axis":null},"y":{"field":"v","type":"quantitative","axis":null,"stack":null},"y2":{"datum":-3},"detail":{"field":"grp"}}},
{"data":{"values":[{}]},"mark":{"type":"text","align":"right","baseline":"middle","fontSize":24},"encoding":{"x":{"datum":5.46,"type":"quantitative","axis":null},"y":{"datum":-0.6,"type":"quantitative","axis":null},"text":{"value":"−5"}}}
]},
{"width":359,"height":60,"transform":[{"filter":"datum.s=='R'&&datum.z=='6'"}],"resolve":{"axis":{"x":"independent","y":"independent"}},"layer":[
{"mark":{"type":"rect","fill":"black"},"encoding":{"x":{"field":"lo","type":"quantitative","scale":{"domain":[-4,6],"nice":false,"zero":false},"axis":{"orient":"bottom","zindex":2,"values":[-2,0,2,4],"gridDash":[10,40],"labels":false,"title":null}},"x2":{"field":"hi"},"y":{"field":"v","type":"quantitative","scale":{"domain":[-3,1],"nice":false,"zero":false},"axis":{"orient":"left","zindex":2,"values":[-2,0],"gridDash":[10,339],"labelFontSize":15,"labelPadding":14,"title":null}},"y2":{"datum":-3}}},
{"data":{"values":[{}]},"mark":{"type":"rect","fill":{"expr":"hatch"},"blend":"lighten"},"encoding":{"x":{"datum":-3.98,"type":"quantitative","axis":{"orient":"top","zindex":2,"values":[-3.5,-3,-2.5,-1.5,-1,-0.5,0.5,1,1.5,2.5,3,3.5,4.5,5,5.5],"gridDash":[5,50],"labels":false,"title":null}},"x2":{"datum":5.98},"y":{"datum":0.96,"type":"quantitative","axis":{"orient":"right","zindex":2,"values":[-2.5,-1.5,-1,-0.5,0.5],"gridDash":[5,349],"labels":false,"title":null}},"y2":{"datum":-2.96}}},
{"transform":[{"fold":["lo","hi"],"as":["k","xv"]},{"joinaggregate":[{"op":"max","field":"hi","as":"mh"}],"groupby":["grp"]},{"filter":"datum.k=='lo'||datum.hi==datum.mh"}],"mark":{"type":"area","interpolate":"step-after","fillOpacity":0,"stroke":"black","strokeWidth":1.3},"encoding":{"x":{"field":"xv","type":"quantitative","axis":null},"y":{"field":"v","type":"quantitative","axis":null,"stack":null},"y2":{"datum":-3},"detail":{"field":"grp"}}},
{"data":{"values":[{}]},"mark":{"type":"text","align":"right","baseline":"middle","fontSize":24},"encoding":{"x":{"datum":5.46,"type":"quantitative","axis":null},"y":{"datum":-0.6,"type":"quantitative","axis":null},"text":{"value":"−6"}}}
]},
{"width":359,"height":60,"transform":[{"filter":"datum.s=='R'&&datum.z=='inf'"}],"resolve":{"axis":{"x":"independent","y":"independent"}},"layer":[
{"mark":{"type":"rect","fill":"black"},"encoding":{"x":{"field":"lo","type":"quantitative","scale":{"domain":[-4,6],"nice":false,"zero":false},"axis":{"orient":"bottom","zindex":2,"values":[-4,-2,0,2,4,6],"gridDash":[10,40],"labelFontSize":18,"labelPadding":13,"title":null}},"x2":{"field":"hi"},"y":{"field":"v","type":"quantitative","scale":{"domain":[-3,1],"nice":false,"zero":false},"axis":{"orient":"left","zindex":2,"values":[-2,0],"gridDash":[10,339],"labelFontSize":15,"labelPadding":14,"title":null}},"y2":{"datum":-3}}},
{"data":{"values":[{}]},"mark":{"type":"rect","fill":{"expr":"hatch"},"blend":"lighten"},"encoding":{"x":{"datum":-3.98,"type":"quantitative","axis":{"orient":"top","zindex":2,"values":[-3.5,-3,-2.5,-1.5,-1,-0.5,0.5,1,1.5,2.5,3,3.5,4.5,5,5.5],"gridDash":[5,50],"labels":false,"title":null}},"x2":{"datum":5.98},"y":{"datum":0.96,"type":"quantitative","axis":{"orient":"right","zindex":2,"values":[-2.5,-1.5,-1,-0.5,0.5],"gridDash":[5,349],"labels":false,"title":null}},"y2":{"datum":-2.96}}},
{"transform":[{"fold":["lo","hi"],"as":["k","xv"]},{"joinaggregate":[{"op":"max","field":"hi","as":"mh"}],"groupby":["grp"]},{"filter":"datum.k=='lo'||datum.hi==datum.mh"}],"mark":{"type":"area","interpolate":"step-after","fillOpacity":0,"stroke":"black","strokeWidth":1.3},"encoding":{"x":{"field":"xv","type":"quantitative","axis":null},"y":{"field":"v","type":"quantitative","axis":null,"stack":null},"y2":{"datum":-3},"detail":{"field":"grp"}}},
{"data":{"values":[{}]},"mark":{"type":"text","align":"right","baseline":"middle","fontSize":24},"encoding":{"x":{"datum":5.46,"type":"quantitative","axis":null},"y":{"datum":-0.6,"type":"quantitative","axis":null},"text":{"value":"−∞"}}},
{"data":{"values":[{}]},"mark":{"type":"text","align":"right","baseline":"alphabetic","fontSize":24},"encoding":{"x":{"datum":2.546,"type":"quantitative","axis":null},"y":{"datum":-6.53,"type":"quantitative","axis":null},"text":{"value":"fragment mass log m"}}},
{"data":{"values":[{}]},"mark":{"type":"text","align":"left","baseline":"alphabetic","fontSize":13,"fontWeight":"bold"},"encoding":{"x":{"datum":2.63,"type":"quantitative","axis":null},"y":{"datum":-7.13,"type":"quantitative","axis":null},"text":{"value":"frag"}}},
{"data":{"values":[{}]},"mark":{"type":"text","align":"left","baseline":"alphabetic","fontSize":24},"encoding":{"x":{"datum":4.38,"type":"quantitative","axis":null},"y":{"datum":-6.53,"type":"quantitative","axis":null},"text":{"value":"(M⊙)"}}}
]}
]}
]
}
